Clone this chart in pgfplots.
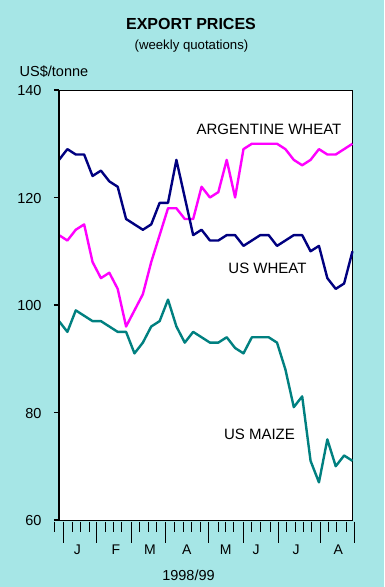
\documentclass[border=0pt]{standalone}
\usepackage{fontspec}
\setmainfont{Liberation Sans}
\usepackage{pgfplots}
\pgfplotsset{compat=1.18}
\definecolor{bgc}{RGB}{166,230,230}
\definecolor{wnavy}{RGB}{0,0,128}
\definecolor{amag}{RGB}{255,0,255}
\definecolor{mteal}{RGB}{0,128,128}
\newcommand{\fs}[1]{\fontsize{#1}{#1}\selectfont}
\begin{document}
\begin{tikzpicture}[x=1pt,y=1pt]
\fill[bgc] (0,0) rectangle (384,587);
\begin{axis}[at={(59pt,67pt)}, anchor=south west, scale only axis,
  width=293.5pt, height=430pt,
  xmin=0, xmax=35, ymin=60, ymax=140,
  xtick=\empty, ytick={60,80,100,120,140}, ytick pos=left,
  tick align=outside, major tick length=5pt,
  every tick/.style={black,line width=1.6pt},
  axis line style={line width=0.8pt},
  axis background/.style={fill=white},
  clip=false,
  yticklabel style={font=\fs{14.5}, xshift=-9pt, yshift=-1pt},
  /pgf/number format/assume math mode=true,
  every axis plot/.append style={line width=2.4pt, line join=round, no markers}]
\addplot[amag] coordinates {(0,113)(1,112)(2,114)(3,115)(4,108)(5,105)(6,106)(7,103)(8,96)(9,99)(10,102)(11,108)(12,113)(13,118)(14,118)(15,116)(16,116)(17,122)(18,120)(19,121)(20,127)(21,120)(22,129)(23,130)(24,130)(25,130)(26,130)(27,129)(28,127)(29,126)(30,127)(31,129)(32,128)(33,128)(34,129)(35,130)};
\addplot[wnavy] coordinates {(0,127)(1,129)(2,128)(3,128)(4,124)(5,125)(6,123)(7,122)(8,116)(9,115)(10,114)(11,115)(12,119)(13,119)(14,127)(15,120)(16,113)(17,114)(18,112)(19,112)(20,113)(21,113)(22,111)(23,112)(24,113)(25,113)(26,111)(27,112)(28,113)(29,113)(30,110)(31,111)(32,105)(33,103)(34,104)(35,110)};
\addplot[mteal] coordinates {(0,97)(1,95)(2,99)(3,98)(4,97)(5,97)(6,96)(7,95)(8,95)(9,91)(10,93)(11,96)(12,97)(13,101)(14,96)(15,93)(16,95)(17,94)(18,93)(19,93)(20,94)(21,92)(22,91)(23,94)(24,94)(25,94)(26,93)(27,88)(28,81)(29,83)(30,71)(31,67)(32,75)(33,70)(34,72)(35,71)};
\draw[line width=2pt] (rel axis cs:0,0) -- (rel axis cs:0,1);
\end{axis}
\foreach \x in {54.3,72.3,80,89.3,105.7,113.3,121.7,139.3,148.3,156.7,174.3,183.3,191.7,200,218.3,225.7,233.3,251.7,260,270,286.7,295,303.3,311.7,328.3,336.7,346}
  \draw[line width=0.8pt] (\x,65.3) -- (\x,55.3);
\foreach \x in {63.3,96.7,131.7,165.7,208.3,243.3,278.3,320,354.3}
  \draw[line width=0.8pt] (\x,65.3) -- (\x,44);
\node[font=\fs{16}\bfseries] at (191,563) {EXPORT PRICES};
\node[font=\fs{13.2}] at (191.5,541) {(weekly quotations)};
\node[font=\fs{14.5}, anchor=west, inner sep=0pt] at (19.5,515) {US\$/tonne};
\node[font=\fs{15}] at (269,458) {ARGENTINE WHEAT};
\node[font=\fs{15}] at (267.5,318.5) {US WHEAT};
\node[font=\fs{15}] at (259.5,152.5) {US MAIZE};
\foreach \x/\m in {77.3/J,116/F,150/M,186.7/A,225.7/M,256/J,296/J,338.3/A}
  \node[font=\fs{14}] at (\x,37) {\m};
\node[font=\fs{14.5}] at (188.5,11.5) {1998/99};
\end{tikzpicture}
\end{document}
